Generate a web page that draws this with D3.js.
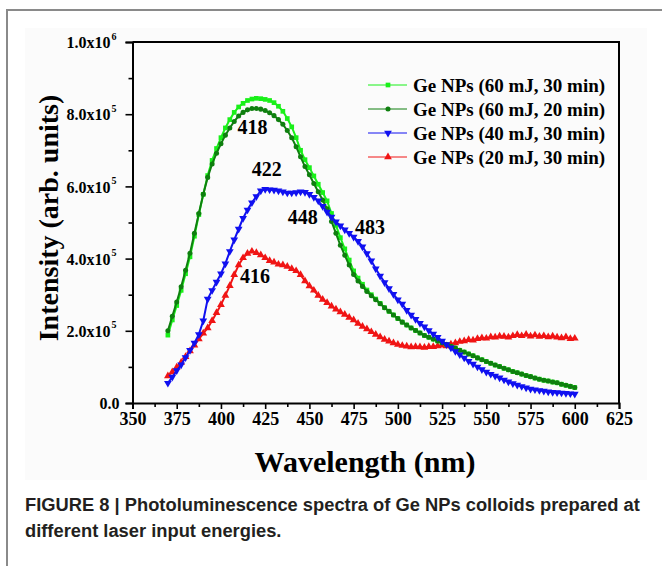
<!DOCTYPE html>
<html>
<head>
<meta charset="utf-8">
<script src="https://cdn.jsdelivr.net/npm/d3@7"></script>
<style>
  body { margin: 0; background: #fff; }
  svg { display: block; }
  .serif { font-family: "Liberation Serif", "Times New Roman", serif; font-weight: bold; }
</style>
</head>
<body>
<svg id="chart" width="662" height="566"></svg>
<script>
// wavelength grid, nm
const wavelength = d3.range(370, 600.01, 2.5)

// intensities in units of 1e5 (arb. units)
const ge60_30 = [1.88,2.30,2.70,3.12,3.58,4.05,4.62,5.22,5.78,6.30,6.72,7.05,7.35,7.62,7.85,8.05,8.20,8.30,8.38,8.42,8.44,8.43,8.41,8.38,8.32,8.22,8.08,7.88,7.65,7.35,7.00,6.74,6.52,6.29,6.06,5.83,5.60,5.25,4.92,4.58,4.27,3.96,3.66,3.46,3.29,3.13,3.00,2.88,2.76,2.64,2.54,2.44,2.34,2.24,2.16,2.08,2.01,1.94,1.87,1.82,1.77,1.72,1.67,1.62,1.57,1.52,1.46,1.41,1.36,1.31,1.25,1.20,1.15,1.10,1.05,1.01,0.96,0.92,0.87,0.84,0.80,0.76,0.73,0.69,0.66,0.63,0.61,0.58,0.56,0.52,0.49,0.46,0.43]
const ge60_20 = [2.00,2.40,2.80,3.22,3.68,4.15,4.70,5.25,5.78,6.25,6.62,6.92,7.18,7.42,7.62,7.80,7.95,8.05,8.12,8.16,8.16,8.14,8.10,8.04,7.96,7.85,7.72,7.55,7.35,7.10,6.82,6.55,6.32,6.08,5.85,5.62,5.38,5.03,4.70,4.37,4.09,3.82,3.56,3.38,3.23,3.09,2.97,2.86,2.75,2.64,2.54,2.44,2.34,2.24,2.16,2.08,2.01,1.94,1.87,1.82,1.77,1.72,1.67,1.62,1.57,1.52,1.46,1.41,1.36,1.31,1.25,1.20,1.15,1.10,1.05,1.01,0.96,0.92,0.87,0.84,0.80,0.76,0.73,0.69,0.66,0.63,0.61,0.58,0.56,0.52,0.49,0.46,0.43]
const ge40_30 = [0.55,0.72,0.90,1.06,1.26,1.46,1.66,1.90,2.28,2.88,3.12,3.35,3.58,3.86,4.20,4.52,4.82,5.12,5.35,5.55,5.72,5.88,5.92,5.91,5.90,5.88,5.85,5.82,5.82,5.83,5.85,5.84,5.78,5.70,5.60,5.45,5.29,5.15,5.02,4.91,4.80,4.70,4.60,4.48,4.33,4.14,3.94,3.72,3.52,3.34,3.17,3.01,2.86,2.74,2.57,2.44,2.32,2.21,2.11,2.01,1.91,1.82,1.72,1.62,1.53,1.43,1.34,1.25,1.16,1.08,1.00,0.93,0.86,0.80,0.75,0.70,0.64,0.59,0.54,0.50,0.46,0.42,0.39,0.37,0.35,0.33,0.31,0.30,0.29,0.28,0.27,0.26,0.25]
const ge20_30 = [0.75,0.86,0.99,1.12,1.28,1.44,1.60,1.77,1.93,2.08,2.28,2.50,2.72,2.98,3.25,3.55,3.82,4.02,4.14,4.20,4.16,4.10,4.02,3.94,3.90,3.84,3.82,3.78,3.72,3.66,3.55,3.38,3.24,3.12,2.98,2.87,2.78,2.68,2.60,2.52,2.45,2.37,2.30,2.20,2.12,2.05,1.97,1.90,1.83,1.76,1.71,1.66,1.62,1.59,1.57,1.55,1.56,1.55,1.54,1.56,1.56,1.58,1.60,1.58,1.63,1.66,1.70,1.72,1.75,1.74,1.78,1.80,1.79,1.83,1.82,1.85,1.84,1.82,1.86,1.89,1.86,1.90,1.85,1.88,1.84,1.86,1.83,1.85,1.82,1.80,1.83,1.78,1.79]

const seriesNames = ["Ge NPs (60 mJ, 30 min)", "Ge NPs (60 mJ, 20 min)", "Ge NPs (40 mJ, 30 min)", "Ge NPs (20 mJ, 30 min)"]
const seriesColors = ["#19f019", "#0f7f0f", "#1010f0", "#f01414"]

const xTicks = [350, 375, 400, 425, 450, 475, 500, 525, 550, 575, 600, 625]
const yTicks = [0, 2, 4, 6, 8, 10]
const yTickMantissa = ["0.0", "2.0x10", "4.0x10", "6.0x10", "8.0x10", "1.0x10"]
const yTickExp = ["", "5", "5", "5", "5", "6"]

// peak annotations: [wavelength, intensity(1e5), text]
const peakLabels = [[417.9, 7.64, "418"], [425.9, 6.47, "422"], [446.2, 5.16, "448"], [419.2, 3.52, "416"], [484.3, 4.87, "483"]]

const captionLines = ["FIGURE 8 | Photoluminescence spectra of Ge NPs colloids prepared at", "different laser input energies."]

const svg = d3.select('#chart')

// page frame + slightly off-white figure area
svg.append('rect').attr('x', 25).attr('y', 28).attr('width', 622).attr('height', 452).attr('fill', '#fbfbfb')
svg.append('path').attr('d', 'M7,566V10H662').attr('fill', 'none').attr('stroke', '#8a8a8a').attr('stroke-width', 2)

const x = d3.scaleLinear().domain([350, 625]).range([132.5, 619])
const y = d3.scaleLinear().domain([0, 10]).range([403, 42])

const symbols = [
  d3.symbol().type(d3.symbolSquare).size(22),
  d3.symbol().type(d3.symbolCircle).size(20),
  d3.symbol().type(d3.symbolTriangle).size(26),
  d3.symbol().type(d3.symbolTriangle).size(26)
]
const rotations = [0, 0, 180, 0]
const allSeries = [ge60_30, ge60_20, ge40_30, ge20_30]

const line = d3.line().x((d, i) => x(wavelength[i])).y(d => y(d))

// red first, then greens, blue on top
const drawOrder = [3, 0, 1, 2]
drawOrder.forEach(k => {
  const g = svg.append('g')
  g.append('path')
    .attr('d', line(allSeries[k]))
    .attr('fill', 'none')
    .attr('stroke', seriesColors[k])
    .attr('stroke-width', 2)
  g.selectAll('path.pt')
    .data(allSeries[k])
    .enter().append('path')
    .attr('class', 'pt')
    .attr('d', symbols[k])
    .attr('fill', seriesColors[k])
    .attr('transform', (d, i) => 'translate(' + x(wavelength[i]) + ',' + y(d) + ') rotate(' + rotations[k] + ')')
})

// axes
const xAxis = svg.append('g').attr('transform', 'translate(0,403)')
  .call(d3.axisBottom(x).tickValues(xTicks).tickSize(6).tickPadding(3).tickFormat(d3.format('d')))
const xMinor = svg.append('g').attr('transform', 'translate(0,403)')
  .call(d3.axisBottom(x).tickValues(d3.range(362.5, 625, 25)).tickSize(4).tickFormat(''))
xMinor.select('.domain').remove()

const yAxis = svg.append('g').attr('transform', 'translate(132.5,0)')
  .call(d3.axisLeft(y).tickValues(yTicks).tickSize(7).tickPadding(6).tickFormat(''))
const yMinor = svg.append('g').attr('transform', 'translate(132.5,0)')
  .call(d3.axisLeft(y).tickValues([1, 3, 5, 7, 9]).tickSize(4).tickFormat(''))
yMinor.select('.domain').remove()

svg.selectAll('.domain').attr('stroke', '#000').attr('stroke-width', 2)
svg.selectAll('.tick line').attr('stroke', '#000').attr('stroke-width', 1.6)

xAxis.selectAll('text')
  .attr('fill', '#000')
  .style('font-size', '18px')
  .style('font-family', '"Liberation Serif", serif')
  .style('font-weight', 'bold')

yAxis.selectAll('.tick').each(function (d, i) {
  const tick = d3.select(this)
  const hasExp = yTickExp[i] !== ''
  tick.append('text')
    .attr('x', hasExp ? -22 : -13)
    .attr('dy', '0.35em')
    .attr('text-anchor', 'end')
    .attr('fill', '#000')
    .style('font-family', '"Liberation Serif", serif')
    .style('font-weight', 'bold')
    .style('font-size', '16px')
    .text(yTickMantissa[i])
  if (hasExp) {
    tick.append('text')
      .attr('x', -21)
      .attr('y', -3)
      .attr('text-anchor', 'start')
      .attr('fill', '#000')
      .style('font-family', '"Liberation Serif", serif')
      .style('font-weight', 'bold')
      .style('font-size', '10px')
      .text(yTickExp[i])
  }
})

// top and right frame
svg.append('path').attr('d', 'M132.5,42H619V403').attr('fill', 'none').attr('stroke', '#000').attr('stroke-width', 2)

// axis titles
svg.append('text').attr('class', 'serif')
  .attr('x', 365).attr('y', 472)
  .attr('text-anchor', 'middle')
  .style('font-size', '30px')
  .text('Wavelength (nm)')
svg.append('text').attr('class', 'serif')
  .attr('transform', 'translate(58,218) rotate(-90)')
  .attr('text-anchor', 'middle')
  .style('font-size', '28px')
  .text('Intensity (arb. units)')

// legend
const legend = svg.append('g')
seriesNames.forEach((name, k) => {
  const ly = 85 + k * 24
  legend.append('line').attr('x1', 368).attr('x2', 407).attr('y1', ly).attr('y2', ly)
    .attr('stroke', seriesColors[k]).attr('stroke-width', 1)
  legend.append('path').attr('d', symbols[k])
    .attr('fill', seriesColors[k])
    .attr('transform', 'translate(388,' + ly + ') rotate(' + rotations[k] + ')')
  legend.append('text').attr('class', 'serif')
    .attr('x', 413).attr('y', ly).attr('dy', '0.35em')
    .style('font-size', '19px')
    .text(name)
})

// peak labels
svg.selectAll('text.peak')
  .data(peakLabels)
  .enter().append('text')
  .attr('class', 'serif peak')
  .attr('x', d => x(d[0]))
  .attr('y', d => y(d[1]))
  .attr('dy', '0.35em')
  .attr('text-anchor', 'middle')
  .style('font-size', '20px')
  .text(d => d[2])

// caption, squeezed horizontally like a condensed face
const cap = svg.append('g')
  .style('font-family', '"Liberation Sans", Arial, sans-serif')
  .style('font-weight', 'bold')
  .style('font-size', '19px')
  .attr('fill', '#231f20')
const capTexts = captionLines.map((s, i) =>
  cap.append('text').attr('x', 0).attr('y', 511 + i * 26).text(s))
const w0 = capTexts[0].node().getComputedTextLength()
const sx = 615 / w0
cap.attr('transform', 'translate(25,0) scale(' + sx + ',1)')
</script>
</body>
</html>
